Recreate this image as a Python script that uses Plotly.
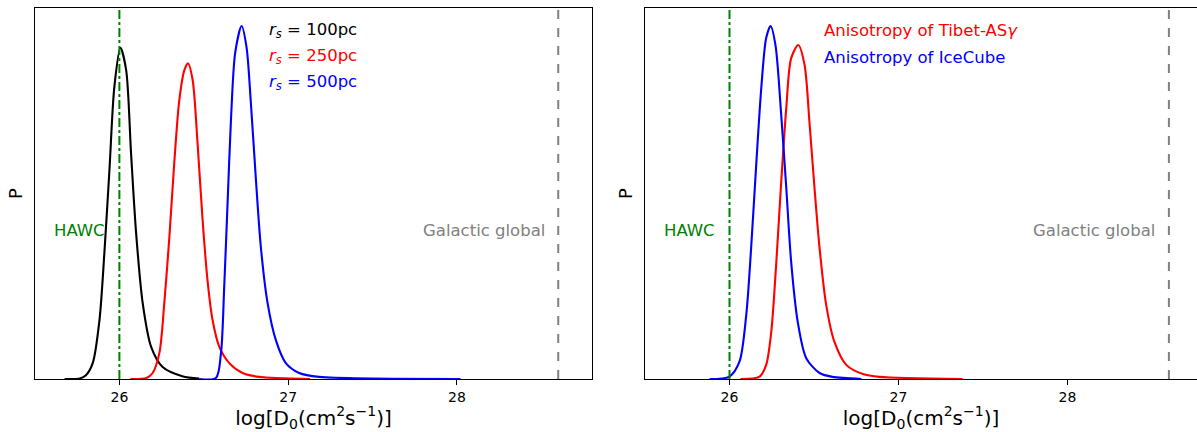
import plotly.graph_objects as go

# ---------------- data ----------------
# Left panel: posterior of log D0 for different source distances r_s
x_r100 = [25.675, 25.760, 25.800, 25.842, 25.882, 25.911, 25.941, 25.970, 26.006, 26.040,
          26.069, 26.099, 26.138, 26.188, 26.256, 26.373, 26.473]
p_r100 = [0.0, 0.001, 0.010, 0.045, 0.167, 0.357, 0.592, 0.827, 0.938, 0.875,
          0.640, 0.414, 0.215, 0.091, 0.034, 0.008, 0.001]

x_r250 = [26.065, 26.160, 26.197, 26.237, 26.266, 26.296, 26.325, 26.355, 26.385,
          26.407, 26.434, 26.463, 26.493, 26.522, 26.552, 26.592, 26.651, 26.730,
          26.828, 27.130]
p_r250 = [0.0, 0.003, 0.017, 0.074, 0.215, 0.402, 0.612, 0.790, 0.875,
          0.894, 0.847, 0.669, 0.450, 0.280, 0.167, 0.091, 0.045, 0.017,
          0.006, 0.0]

x_r500 = [26.473, 26.572, 26.602, 26.621, 26.641, 26.661, 26.686, 26.724, 26.753,
          26.779, 26.809, 26.838, 26.878, 26.927, 26.986, 27.065, 27.183, 28.021]
p_r500 = [0.0, 0.003, 0.074, 0.261, 0.499, 0.734, 0.924, 1.000, 0.941,
          0.782, 0.564, 0.374, 0.215, 0.110, 0.045, 0.017, 0.006, 0.0]

# Right panel: posterior from anisotropy constraints
x_tibet = [26.065, 26.178, 26.217, 26.247, 26.276, 26.306, 26.336, 26.365, 26.407,
           26.444, 26.473, 26.503, 26.533, 26.572, 26.621, 26.691, 26.789, 26.888,
           27.379]
p_tibet = [0.0, 0.007, 0.040, 0.133, 0.323, 0.558, 0.768, 0.909, 0.946,
           0.890, 0.728, 0.541, 0.371, 0.210, 0.105, 0.040, 0.014, 0.006,
           0.0]

x_icecube = [25.882, 26.000, 26.059, 26.099, 26.128, 26.158, 26.188, 26.217, 26.243,
             26.272, 26.306, 26.336, 26.365, 26.404, 26.454, 26.533, 26.609, 26.781]
p_icecube = [0.0, 0.007, 0.049, 0.181, 0.371, 0.606, 0.824, 0.966, 1.000,
             0.946, 0.748, 0.541, 0.331, 0.161, 0.059, 0.017, 0.006, 0.0]

# Reference values
hawc_logD0 = 26.0
galactic_logD0 = 28.6

left_labels = ["<i>r</i><sub><i>s</i></sub> = 100pc",
               "<i>r</i><sub><i>s</i></sub> = 250pc",
               "<i>r</i><sub><i>s</i></sub> = 500pc"]
left_colors = ["black", "red", "blue"]
right_labels = ["Anisotropy of Tibet-AS<i>γ</i>", "Anisotropy of IceCube"]
right_colors = ["red", "blue"]

x_ticks = [26, 27, 28]

# ---------------- figure ----------------
W, H = 1197, 432
FONT = "DejaVu Sans"
fig = go.Figure()

curves_left = [(x_r100, p_r100), (x_r250, p_r250), (x_r500, p_r500)]
for (xs, ps), c in zip(curves_left, left_colors):
    fig.add_trace(go.Scatter(x=xs, y=ps, mode="lines", xaxis="x", yaxis="y",
                             line=dict(color=c, width=2.1, shape="spline", smoothing=0.8),
                             showlegend=False, hoverinfo="skip"))

curves_right = [(x_tibet, p_tibet), (x_icecube, p_icecube)]
for (xs, ps), c in zip(curves_right, right_colors):
    fig.add_trace(go.Scatter(x=xs, y=ps, mode="lines", xaxis="x2", yaxis="y2",
                             line=dict(color=c, width=2.1, shape="spline", smoothing=0.8),
                             showlegend=False, hoverinfo="skip"))

# vertical reference lines
for xr, yr in [("x", "y domain"), ("x2", "y2 domain")]:
    fig.add_shape(type="line", xref=xr, yref=yr, x0=hawc_logD0, x1=hawc_logD0, y0=0, y1=1,
                  line=dict(color="green", width=2, dash="dashdot"), layer="above")
    fig.add_shape(type="line", xref=xr, yref=yr, x0=galactic_logD0, x1=galactic_logD0, y0=0, y1=1,
                  line=dict(color="gray", width=2, dash="dash"), layer="above")

ann_font = 16.5
annotations = []
# HAWC / Galactic global labels
for xr, yr in [("x", "y"), ("x2", "y2")]:
    annotations.append(dict(x=25.6, y=0.42, xref=xr, yref=yr, text="HAWC", showarrow=False,
                            xanchor="left", yanchor="middle",
                            font=dict(color="green", size=ann_font, family=FONT)))
    annotations.append(dict(x=27.785, y=0.42, xref=xr, yref=yr, text="Galactic global", showarrow=False,
                            xanchor="left", yanchor="middle",
                            font=dict(color="gray", size=ann_font, family=FONT)))

# left legend text
for i, (t, c) in enumerate(zip(left_labels, left_colors)):
    annotations.append(dict(x=26.876, y=(379 - (31 + 26 * i)) / 353, xref="x", yref="y",
                            text=t, showarrow=False, xanchor="left", yanchor="middle",
                            font=dict(color=c, size=ann_font, family=FONT)))
# right legend text
for i, (t, c) in enumerate(zip(right_labels, right_colors)):
    annotations.append(dict(x=26.55, y=(379 - (31 + 27 * i)) / 353, xref="x2", yref="y2",
                            text=t, showarrow=False, xanchor="left", yanchor="middle",
                            font=dict(color=c, size=ann_font, family=FONT)))

xtitle = "log[D<sub>0</sub>(cm<sup>2</sup>s<sup>−1</sup>)]"
common_x = dict(tickmode="array", tickvals=x_ticks, ticktext=[str(t) for t in x_ticks],
                ticks="outside", ticklen=5, tickwidth=1, tickcolor="black",
                showline=True, linecolor="black", linewidth=1.2, mirror=True,
                showgrid=False, zeroline=False,
                tickfont=dict(size=14, family=FONT, color="black"),
                title=dict(text=xtitle, font=dict(size=20, family=FONT, color="black"), standoff=8),
                automargin=False)
common_y = dict(range=[0, 1.051], showticklabels=False, ticks="",
                showline=True, linecolor="black", linewidth=1.2, mirror=True,
                showgrid=False, zeroline=False,
                title=dict(text="P", font=dict(size=18, family=FONT, color="black"), standoff=6),
                automargin=False)

y_dom = [53 / H, (H - 8) / H]
fig.update_layout(
    width=W, height=H,
    margin=dict(l=0, r=0, t=0, b=0),
    paper_bgcolor="white", plot_bgcolor="white",
    font=dict(family=FONT, color="black"),
    xaxis=dict(domain=[35 / W, 592 / W], range=[25.5, 28.8], anchor="y", **common_x),
    yaxis=dict(domain=y_dom, anchor="x", **common_y),
    xaxis2=dict(domain=[645 / W, 1.0], range=[25.5, 25.5 + 552 / 169], anchor="y2", **common_x),
    yaxis2=dict(domain=y_dom, anchor="x2", **common_y),
    annotations=annotations,
)

fig.write_html("out.html")
